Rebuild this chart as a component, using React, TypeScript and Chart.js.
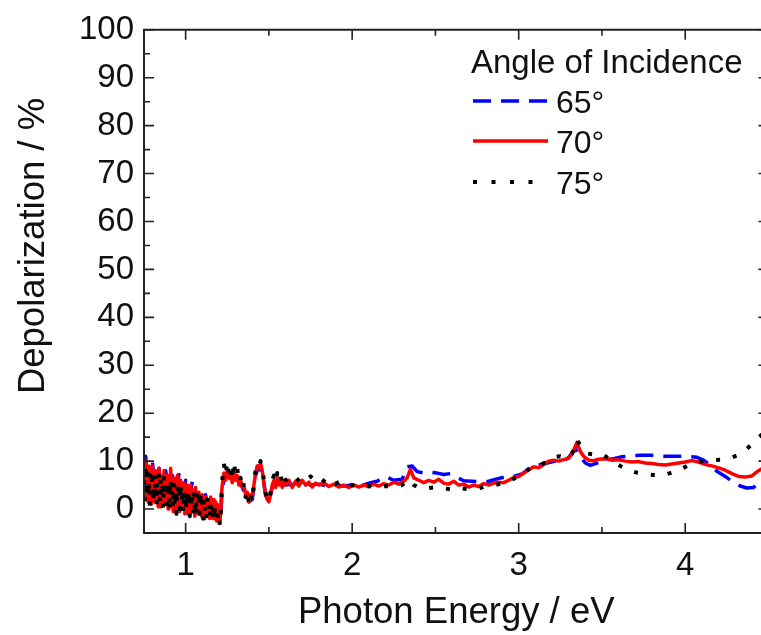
import React, { useEffect, useRef } from 'react';
import { Chart, registerables } from 'chart.js';

Chart.register(...registerables);

// ---------- data ----------
const seriesLabels = ['65°', '70°', '75°'];
const legendTitle = 'Angle of Incidence';
const xTitle = 'Photon Energy / eV';
const yTitle = 'Depolarization / %';

const xMajorTicks = [1, 2, 3, 4];
const xMinorTicks = [1.5, 2.5, 3.5];
const yMajorTicks = [0, 10, 20, 30, 40, 50, 60, 70, 80, 90, 100];
const yMinorTicks = [5, 15, 25, 35, 45, 55, 65, 75, 85, 95];

// energies of the dense, noisy low-energy part (shared by 70° and 75°)
const energyNoisy = [
  0.750, 0.755, 0.760, 0.765, 0.770, 0.775, 0.780, 0.785, 0.790, 0.795,
  0.800, 0.805, 0.810, 0.815, 0.820, 0.825, 0.830, 0.835, 0.840, 0.845,
  0.850, 0.855, 0.860, 0.865, 0.870, 0.875, 0.880, 0.885, 0.890, 0.895,
  0.900, 0.905, 0.910, 0.915, 0.920, 0.925, 0.930, 0.935, 0.940, 0.945,
  0.950, 0.955, 0.960, 0.965, 0.970, 0.975, 0.980, 0.985, 0.990, 0.995,
  1.000, 1.005, 1.010, 1.015, 1.020, 1.025, 1.030, 1.035, 1.040, 1.045,
  1.050, 1.055, 1.060, 1.065, 1.070, 1.075, 1.080, 1.085, 1.090, 1.095,
  1.100, 1.105, 1.110, 1.115, 1.120, 1.125, 1.130, 1.135, 1.140, 1.145,
  1.150, 1.155, 1.160, 1.165, 1.170, 1.175, 1.180, 1.185, 1.190, 1.195,
  1.200, 1.205, 1.210, 1.215,
];

// 65°
const energy65 = [
  0.75, 0.76, 0.78, 0.80, 0.82, 0.84, 0.86, 0.88, 0.90, 0.92,
  0.94, 0.96, 0.98, 1.00, 1.02, 1.04, 1.06, 1.08, 1.10, 1.12,
  1.14, 1.16, 1.18, 1.20, 1.21, 1.22, 1.24, 1.26, 1.28, 1.30,
  1.32, 1.34, 1.36, 1.38, 1.40, 1.42, 1.44, 1.46, 1.48, 1.50,
  1.52, 1.54, 1.56, 1.58, 1.60, 1.65, 1.70, 1.75, 1.80, 1.85,
  1.90, 1.95, 2.00, 2.05, 2.10, 2.15, 2.20, 2.25, 2.30, 2.33,
  2.36, 2.39, 2.43, 2.47, 2.51, 2.55, 2.59, 2.63, 2.67, 2.72,
  2.77, 2.82, 2.87, 2.92, 2.97, 3.02, 3.07, 3.12, 3.17, 3.22,
  3.26, 3.30, 3.34, 3.37, 3.40, 3.43, 3.47, 3.52, 3.57, 3.62,
  3.67, 3.73, 3.80, 3.87, 3.94, 4.00, 4.07, 4.11, 4.15, 4.19,
  4.24, 4.28, 4.33, 4.37, 4.41, 4.45, 4.50,
];
const depol65 = [
  5, 11, 2, 10, 3, 8.5, 1.5, 8, 2, 7,
  0.5, 7.5, 1, 6, 0, 6, -1, 4, -0.5, 3,
  -1.5, 2, -1.5, 0, -2, 4.5, 7, 6.5, 7.5, 6,
  6.5, 4.5, 3, 1.5, 2, 7, 9, 7.5, 3, 1.5,
  4.5, 5.5, 4.5, 6, 5, 5.2, 5.5, 5, 5.2, 4.8,
  5, 4.8, 5, 4.8, 5.4, 5.8, 6.8, 6, 6.2, 8.8,
  9, 7.8, 7.5, 7.7, 7.5, 7.2, 7.4, 6.6, 5.9, 5.8,
  5.7, 5.8, 6.3, 6.7, 6.8, 7.3, 8.7, 9.2, 9.6, 10,
  9.7, 10.8, 12.5, 11, 9.6, 9.1, 9.6, 10.3, 10.5, 10.9,
  11.1, 11.2, 11.2, 11, 11, 11, 10.8, 10.2, 9.2, 7.9,
  6.8, 5.8, 4.8, 4.4, 4.5, 5.8, 6.5,
];

// 70°
const depol70Noisy = [
  3, 8, 10, 2, 7, 1.5, 9, 4, 8.5, 1,
  9, 3, 6.5, 1.5, 8, 2.5, 7, 0.5, 8.5, 3,
  6, 0.5, 7, 2, 8, 1, 6.5, 3, 7, 0,
  6, 2, 8.5, 1, 5.5, -0.5, 6.5, 1.5, 5, 0,
  7, 2, 5.5, -0.5, 6, 1, 4.5, 0.5, 5.5, -1,
  4.5, 1, 5, -1, 3.5, 0.5, 5, -0.5, 4, 0,
  3, -1.5, 4.5, 0, 3, -1, 3.5, -0.5, 2.5, -1.5,
  3, 0, 2, -2, 2.5, -1, 2, -1.5, 1.5, -2,
  2.5, -1, 1, -2, 2, -1, 1.5, -2.5, 1, -1.5,
  0.5, -3, -1, 3,
];
const energy70Rest = [
  1.22, 1.23, 1.24,
  1.25, 1.26, 1.27, 1.28, 1.29, 1.30, 1.31, 1.32, 1.33, 1.34,
  1.35, 1.36, 1.37, 1.38, 1.39, 1.40, 1.41, 1.42, 1.43, 1.44,
  1.45, 1.46, 1.47, 1.48, 1.49, 1.50, 1.51, 1.52, 1.53, 1.54,
  1.55, 1.56, 1.57, 1.58, 1.59, 1.60, 1.62, 1.64, 1.66, 1.68,
  1.70, 1.72, 1.74, 1.76, 1.78, 1.80, 1.83, 1.86, 1.89, 1.92,
  1.95, 1.98, 2.01, 2.04, 2.07, 2.10, 2.13, 2.16, 2.19, 2.22,
  2.25, 2.28, 2.31, 2.33, 2.35, 2.37, 2.40, 2.43, 2.46, 2.49,
  2.52, 2.55, 2.58, 2.61, 2.64, 2.67, 2.70, 2.73, 2.76, 2.79,
  2.82, 2.85, 2.88, 2.91, 2.94, 2.97, 3.00, 3.03, 3.06, 3.09,
  3.12, 3.15, 3.18, 3.21, 3.24, 3.27, 3.30, 3.32, 3.35, 3.37,
  3.39, 3.42, 3.45, 3.48, 3.52, 3.56, 3.60, 3.64, 3.68, 3.72,
  3.76, 3.80, 3.84, 3.88, 3.92, 3.96, 4.00, 4.04, 4.08, 4.12,
  4.16, 4.20, 4.24, 4.28, 4.32, 4.36, 4.40, 4.44, 4.48, 4.50,
];
const depol70Rest = [
  5, 7.5, 6,
  8, 6.5, 7.5, 5.5, 8, 6, 7, 5, 6, 4.5,
  5, 3, 3.5, 1.5, 3, 2.5, 5, 7.5, 9, 8.5,
  9.5, 8, 5.5, 3, 2, 1.5, 3, 5, 6, 4.5,
  6.5, 5, 6, 4.5, 6, 5, 6, 4.5, 5.8, 4.8,
  6, 5, 5.6, 4.6, 5.4, 5, 5.5, 4.7, 5.2, 4.6,
  5, 4.5, 5, 4.6, 5, 4.7, 5.2, 4.8, 5.3, 5,
  5.6, 5.2, 5.8, 6.5, 8.3, 6.5, 6, 5.5, 6, 5.6,
  6.2, 5.4, 5.2, 5.8, 5, 5.2, 4.6, 5, 4.7, 5.3,
  5, 5.4, 5.6, 5.5, 6, 6.6, 6.8, 7.5, 8.2, 8.8,
  8.6, 9.3, 10, 10.2, 10, 10.3, 10.6, 11.5, 13.9, 12,
  11, 10.2, 10.1, 10.4, 10.5, 10.2, 10.3, 10, 9.8, 9.9,
  9.6, 9.5, 9.3, 9.2, 9.4, 9.6, 9.8, 10.1, 9.8, 9.3,
  9, 8.6, 8.1, 7.4, 6.8, 6.7, 6.9, 8, 8.8, 9,
];

// 75°
const depol75Noisy = [
  6, 1.5, 8, 4, 9, 2, 6, 0.5, 7, 3,
  8, 1, 5, 2.5, 7.5, 0.5, 5.5, 3, 7, 1,
  6.5, 2.5, 4.5, 0, 7, 3, 5, 1, 6, 2,
  4.5, -0.5, 6.5, 2.5, 4, 0, 5.5, 1.5, 4, -1,
  5, 2, 3.5, 0, 5.5, 1.5, 3, -1, 4, 1,
  3.5, -0.5, 4, 1, 2.5, -1.5, 3.5, 0.5, 2.5, -1,
  3.5, 0, 2, -1.5, 3, 0.5, 2, -1, 2.5, 0,
  1.5, -2, 2.5, 0, 1, -1.5, 2, 0, 1, -2,
  1.5, -0.5, 0.5, -2.5, 1.5, -0.5, 0, -2, 0.5, -1.5,
  -0.5, -3.5, -1.5, 2.5,
];
const energy75Rest = [
  1.22, 1.23, 1.24,
  1.25, 1.26, 1.27, 1.28, 1.29, 1.30, 1.31, 1.32, 1.33, 1.34,
  1.35, 1.36, 1.37, 1.38, 1.39, 1.40, 1.41, 1.42, 1.43, 1.44,
  1.45, 1.46, 1.47, 1.48, 1.49, 1.50, 1.51, 1.52, 1.53, 1.54,
  1.55, 1.56, 1.57, 1.58, 1.59, 1.60, 1.63, 1.66, 1.69, 1.72,
  1.75, 1.78, 1.81, 1.84, 1.87, 1.90, 1.93, 1.96, 2.00, 2.05,
  2.10, 2.15, 2.20, 2.25, 2.30, 2.34, 2.37, 2.41, 2.46, 2.51,
  2.56, 2.61, 2.66, 2.71, 2.76, 2.81, 2.86, 2.91, 2.96, 3.01,
  3.05, 3.09, 3.13, 3.17, 3.21, 3.25, 3.29, 3.32, 3.35, 3.38,
  3.41, 3.45, 3.49, 3.53, 3.57, 3.62, 3.66, 3.71, 3.76, 3.81,
  3.86, 3.91, 3.96, 4.01, 4.06, 4.11, 4.17, 4.22, 4.27, 4.32,
  4.36, 4.40, 4.44, 4.48, 4.50,
];
const depol75Rest = [
  6, 9.5, 7,
  10, 7.5, 9, 6, 10, 7, 8.5, 5.5, 6.5, 4,
  5.5, 2.5, 4, 1, 3, 1.5, 5.5, 8, 9.5, 9,
  10, 8.5, 6, 3.5, 2, 1.5, 3.5, 6, 7, 5.5,
  7.5, 6, 7, 5.5, 7, 6, 6.8, 5.6, 6.6, 5.8,
  6.8, 5.8, 6.5, 5.5, 6.2, 5.3, 5.8, 5, 5, 4.6,
  4.8, 4.5, 4.8, 4.6, 5, 6.2, 5, 4.3, 4.4, 4.6,
  4.3, 4, 4.3, 4.1, 4.3, 4.8, 5, 5.5, 6.2, 6.8,
  8, 9.1, 9.3, 9.8, 10.8, 11, 10.6, 11.5, 14.5, 12.5,
  11.6, 11.4, 11.6, 10.8, 9.8, 8.8, 8.1, 7.6, 7.3, 7.1,
  7, 7.5, 8, 9, 9.6, 10, 10.2, 10.3, 10.6, 11.3,
  12.3, 13.5, 15, 16, 16.5,
];

const colors = ['#0000ff', '#ff0000', '#000000'];
const FONT = '"Liberation Sans", Arial, Helvetica, sans-serif';

function toPoints(xs: number[], ys: number[]) {
  return xs.map((x, i) => ({ x, y: ys[i] }));
}

const framePlugin = {
  id: 'frameAndLegend',
  afterDatasetsDraw(chart: any) {
    const { ctx, chartArea } = chart;
    const { left, right, top, bottom } = chartArea;
    const xs = chart.scales.x;
    const ys = chart.scales.y;
    ctx.save();
    ctx.strokeStyle = '#222';
    ctx.lineWidth = 2;
    ctx.setLineDash([]);
    ctx.beginPath();
    ctx.moveTo(right, top);
    ctx.lineTo(left, top);
    ctx.lineTo(left, bottom);
    ctx.lineTo(right, bottom);
    ctx.lineTo(right, top);
    ctx.stroke();

    ctx.lineWidth = 1.6;
    const major = 10;
    const minor = 6;
    ctx.beginPath();
    xMajorTicks.forEach((v) => {
      const p = xs.getPixelForValue(v);
      ctx.moveTo(p, bottom); ctx.lineTo(p, bottom - major);
      ctx.moveTo(p, top); ctx.lineTo(p, top + major);
    });
    xMinorTicks.forEach((v) => {
      const p = xs.getPixelForValue(v);
      ctx.moveTo(p, bottom); ctx.lineTo(p, bottom - minor);
      ctx.moveTo(p, top); ctx.lineTo(p, top + minor);
    });
    yMajorTicks.forEach((v) => {
      const p = ys.getPixelForValue(v);
      ctx.moveTo(left, p); ctx.lineTo(left + major, p);
      ctx.moveTo(right, p); ctx.lineTo(right - major, p);
    });
    yMinorTicks.forEach((v) => {
      const p = ys.getPixelForValue(v);
      ctx.moveTo(left, p); ctx.lineTo(left + minor, p);
      ctx.moveTo(right, p); ctx.lineTo(right - minor, p);
    });
    ctx.stroke();

    // axis titles
    ctx.fillStyle = '#111';
    ctx.font = `36.5px ${FONT}`;
    ctx.textAlign = 'center';
    ctx.textBaseline = 'alphabetic';
    ctx.fillText(xTitle, (left + right) / 2, 623);
    ctx.save();
    ctx.translate(44, 246);
    ctx.rotate(-Math.PI / 2);
    ctx.fillText(yTitle, 0, 0);
    ctx.restore();

    // legend
    ctx.font = `33px ${FONT}`;
    ctx.textAlign = 'left';
    ctx.fillText(legendTitle, 471, 73);
    const rowsY = [101, 141, 182];
    const dashes = [[18, 10], [], [4, 14.5]];
    const ends = [548, 548, 540];
    ctx.font = `32px ${FONT}`;
    rowsY.forEach((yy, i) => {
      ctx.strokeStyle = colors[i];
      ctx.lineWidth = i === 2 ? 4 : 3.5;
      ctx.setLineDash(dashes[i]);
      ctx.beginPath();
      ctx.moveTo(473, yy);
      ctx.lineTo(ends[i], yy);
      ctx.stroke();
      ctx.setLineDash([]);
      ctx.fillStyle = '#111';
      ctx.fillText(seriesLabels[i], 556, yy + 11.5);
    });
    ctx.restore();
  },
};

export default function App() {
  const ref = useRef<HTMLCanvasElement | null>(null);
  useEffect(() => {
    if (!ref.current) return;
    const chart = new Chart(ref.current, {
      type: 'line',
      data: {
        datasets: [
          {
            label: seriesLabels[2],
            data: toPoints(energyNoisy.concat(energy75Rest), depol75Noisy.concat(depol75Rest)),
            borderColor: colors[2],
            borderWidth: 4,
            borderDash: [4, 13],
            borderJoinStyle: 'round',
            pointRadius: 0,
            tension: 0,
          },
          {
            label: seriesLabels[1],
            data: toPoints(energyNoisy.concat(energy70Rest), depol70Noisy.concat(depol70Rest)),
            borderColor: colors[1],
            borderWidth: 3.5,
            borderJoinStyle: 'round',
            pointRadius: 0,
            tension: 0,
          },
          {
            label: seriesLabels[0],
            data: toPoints(energy65, depol65),
            borderColor: colors[0],
            borderWidth: 3.5,
            borderDash: [18, 10],
            borderJoinStyle: 'round',
            pointRadius: 0,
            tension: 0,
          },
        ],
      },
      options: {
        responsive: false,
        animation: false,
        devicePixelRatio: 1,
        layout: { padding: { left: 0, top: 26, right: 6.5, bottom: 0 } },
        plugins: { legend: { display: false }, tooltip: { enabled: false } },
        events: [],
        scales: {
          x: {
            type: 'linear',
            min: 0.75,
            max: 4.5,
            grid: { display: false, drawTicks: false },
            border: { display: false },
            ticks: {
              stepSize: 1,
              includeBounds: false,
              padding: 13,
              color: '#111',
              font: { family: FONT, size: 33 },
              maxRotation: 0,
            },
            afterFit: (s: any) => { s.height = 102; },
          },
          y: {
            type: 'linear',
            min: -5,
            max: 100,
            grid: { display: false, drawTicks: false },
            border: { display: false },
            ticks: {
              stepSize: 10,
              includeBounds: false,
              padding: 10,
              color: '#111',
              font: { family: FONT, size: 33 },
            },
            afterFit: (s: any) => { s.width = 144; },
          },
        },
      },
      plugins: [framePlugin],
    });
    return () => chart.destroy();
  }, []);
  return (
    <div style={{ position: 'fixed', left: 0, top: 0, width: 761, height: 635, overflow: 'hidden', background: '#fff' }}>
      <canvas ref={ref} width={775} height={635} style={{ display: 'block' }} />
    </div>
  );
}
